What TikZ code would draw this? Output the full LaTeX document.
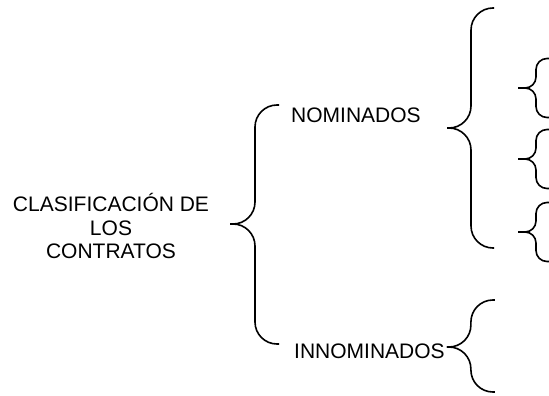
\documentclass[tikz,border=0pt]{standalone}
\usepackage{fontspec}
\setmainfont{Liberation Sans}
\usetikzlibrary{positioning,calc}
\tikzset{
	titulo/.style={
		align=center, inner sep=0pt, font=\fontsize{21}{23.5}\selectfont
	},
	%
	clase/.style={
		anchor=base west, inner sep=0pt, font=\fontsize{21}{23.5}\selectfont
	},
	%
	llave/.style={
		line width=1.6pt, rounded corners=22pt
	},
	%
	llavechica/.style={
		line width=1.6pt, rounded corners=11pt
	}
}
\begin{document}
\begin{tikzpicture}[x=1pt,y=-1pt]
    \useasboundingbox (0,0) rectangle (549,396);
    \node(tit)[titulo] at (111,226) {CLASIFICACIÓN DE\\LOS\\CONTRATOS};
    \node(nom)[clase] at (291,122.5) {NOMINADOS};
    \node(inn)[clase] at (294,358) {INNOMINADOS};
    \coordinate(p1) at (230,224);
    \coordinate(p2) at (447,128);
    \coordinate(p3) at ([xshift=2pt]inn.east |- 0,347);
    \draw[llave] (p1) -- ++(25,0) |- ++(24,-119);
    \draw[llave] (p1) -- ++(25,0) |- ++(24,120);
    \draw[llave] (p2) -- ++(24,0) |- ++(23,-120);
    \draw[llave] (p2) -- ++(24,0) |- ++(23,120);
    \draw[llave] (p3) -- ++(24,0) |- ++(24,-47);
    \draw[llave] (p3) -- ++(24,0) |- ++(24,45);
    \foreach \y in {88,159,232}{
        \draw[llavechica] (518,\y) -- ++(18,0) |- ++(13,-29.5);
        \draw[llavechica] (518,\y) -- ++(18,0) |- ++(13,29.5);
    }
\end{tikzpicture}
\end{document}
